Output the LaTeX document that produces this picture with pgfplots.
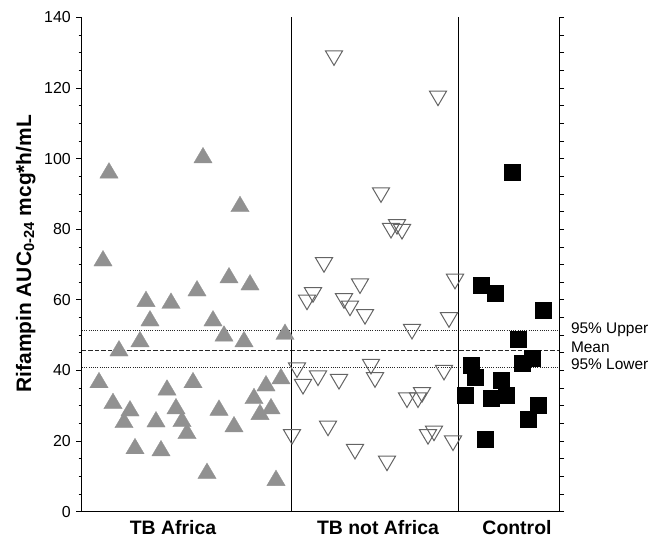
\documentclass[border=0pt]{standalone}
\usepackage{fontspec}
\setmainfont{Liberation Sans}
\usepackage{pgfplots}
\pgfplotsset{compat=1.18}
\definecolor{trigray}{RGB}{145,145,145}
\definecolor{opengray}{RGB}{100,100,100}
\definecolor{refline}{RGB}{40,40,40}

% triangles centred on their bounding box
\pgfdeclareplotmark{uptri}{%
  \pgfpathmoveto{\pgfpoint{0bp}{7.8bp}}%
  \pgfpathlineto{\pgfpoint{-9.2bp}{-7.8bp}}%
  \pgfpathlineto{\pgfpoint{9.2bp}{-7.8bp}}%
  \pgfpathclose
  \pgfusepathqfillstroke}
\pgfdeclareplotmark{dntri}{%
  \pgfpathmoveto{\pgfpoint{0bp}{-7.3bp}}%
  \pgfpathlineto{\pgfpoint{-8.6bp}{7.3bp}}%
  \pgfpathlineto{\pgfpoint{8.6bp}{7.3bp}}%
  \pgfpathclose
  \pgfusepathqstroke}

\begin{document}
\begin{tikzpicture}
\begin{axis}[
  at={(0,0)}, anchor=south west,
  scale only axis, width=477bp, height=494.2bp,
  xmin=82, xmax=559, ymin=0, ymax=140,
  axis x line=bottom, axis y line=left,
  axis line style={-, line width=1bp, black},
  xtick={173,378,517},
  xticklabels={TB Africa, TB not Africa, Control},
  xtick style={draw=none},
  xticklabel style={font=\fontsize{19.5}{22}\selectfont\bfseries},
  ytick={0,20,...,140},
  minor y tick num=3,
  tick align=outside,
  major tick length=5.7bp, minor tick length=3.3bp,
  ytick style={black, line width=0.8bp},
  yticklabel style={font=\fontsize{16}{18}\selectfont, xshift=-2bp},
  /pgf/number format/assume math mode=true,
  ylabel={Rifampin AUC\textsubscript{0-24} mcg*h/mL},
  ylabel style={font=\fontsize{21}{24}\selectfont\bfseries,
                at={(axis description cs:-0.118,0.522)}, anchor=center},
  clip=false,
]
% reference lines
\addplot[refline, line width=1bp, dash pattern=on 1bp off 1.2bp] coordinates {(82,51.3) (559,51.3)};
\addplot[refline, line width=1bp, dash pattern=on 4.5bp off 2bp] coordinates {(82,45.8) (559,45.8)};
\addplot[refline, line width=1bp, dash pattern=on 1bp off 1.2bp] coordinates {(82,40.9) (559,40.9)};
% group dividers
\addplot[black, line width=1bp] coordinates {(291.5,0) (291.5,140)};
\addplot[black, line width=1bp] coordinates {(458,0) (458,140)};

% TB Africa
\addplot[only marks, mark=uptri, mark options={fill=trigray, draw=trigray, line width=0.3bp}] coordinates {
 (109,96.7) (203,101.0) (240,87.2) (103,71.8) (229,67.0) (250,65.0) (197,63.3)
 (146,60.3) (171,59.8) (150,54.8) (213,54.8) (224,50.5) (285,51.0) (244,48.9)
 (140,48.9) (119,46.3) (99,37.3) (193,37.3) (167,35.2) (281,38.4) (266,36.4)
 (113,31.4) (130,29.3) (124,26.0) (176,29.9) (182,26.3) (187,22.9) (156,26.2)
 (219,29.5) (234,24.8) (254,32.8) (271,29.9) (260,28.3) (135,18.6) (161,18.0)
 (207,11.6) (276,9.6)
};
% TB not Africa
\addplot[only marks, mark=dntri, mark options={draw=opengray, line width=1bp}] coordinates {
 (334,128.5) (438,117.1) (381,89.7) (397,80.7) (391,79.6) (402,79.3) (324,69.9)
 (360,63.9) (313,61.4) (307,59.3) (344,59.7) (350,57.6) (365,55.2) (455,65.2)
 (449,54.3) (412,51.0) (297,40.1) (303,35.4) (318,37.8) (339,36.8) (371,41.1)
 (375,37.3) (444,39.4) (407,31.6) (418,31.6) (422,33.1) (328,23.6) (292,21.2)
 (428,21.2) (434,22.2) (453,19.4) (355,17.0) (387,13.7)
};
% Control
\addplot[only marks, mark=square*, mark size=8bp, mark options={fill=black, draw=black, line width=0.3bp}] coordinates {
 (512,96.3) (481,64.2) (495,62.0) (543,57.1) (518,48.8) (532,43.5) (522,42.2)
 (471,41.6) (475,38.0) (501,37.3) (465,33.1) (491,32.1) (506,33.1) (538,30.2)
 (528,26.2) (485,20.5)
};

\node[anchor=mid west, xshift=8.5bp, font=\fontsize{15.5}{18}\selectfont] at (axis cs:559,51.3) {95\% Upper};
\node[anchor=mid west, xshift=8.5bp, font=\fontsize{15.5}{18}\selectfont] at (axis cs:559,45.8) {Mean};
\node[anchor=mid west, xshift=8.5bp, font=\fontsize{15.5}{18}\selectfont] at (axis cs:559,40.9) {95\% Lower};
\end{axis}

% right axis with its own ticks
\begin{axis}[
  at={(0,0)}, anchor=south west,
  scale only axis, width=477bp, height=494.2bp,
  xmin=82, xmax=559, ymin=0, ymax=140,
  axis x line=none, axis y line*=right,
  axis line style={-, line width=1bp, black},
  ytick={0,5,...,140}, yticklabels={},
  tick align=outside, major tick length=5bp,
  ytick style={black, line width=0.8bp},
]
\end{axis}

\pgfresetboundingbox
\path (-82bp,-26.3bp) rectangle (568bp,511.7bp);
\end{tikzpicture}
\end{document}
